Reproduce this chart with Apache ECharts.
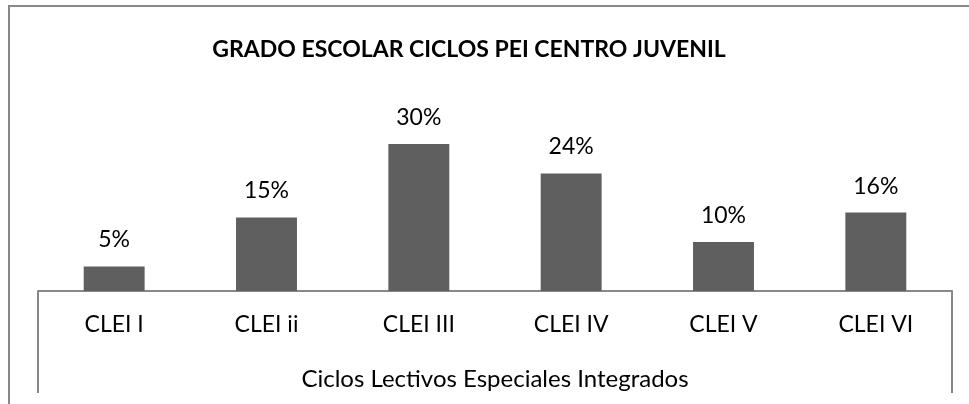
<!DOCTYPE html>
<html>
<head>
<meta charset="utf-8">
<script src="https://cdn.jsdelivr.net/npm/echarts@6/dist/echarts.min.js"></script>
<style>
  html, body { margin: 0; padding: 0; background: #fff; }
  #frame { position: absolute; left: 8px; top: 5px; width: 961px; height: 399px;
           border-left: 2px solid #888; border-top: 2px solid #888; box-sizing: border-box; }
  #main { position: absolute; left: 0; top: 0; width: 969px; height: 404px; }
</style>
</head>
<body>
<div id="frame"></div>
<div id="main"></div>
<script>
// datos del grafico
var categorias = ['CLEI I', 'CLEI ii', 'CLEI III', 'CLEI IV', 'CLEI V', 'CLEI VI'];
var porcentajes = [5, 15, 30, 24, 10, 16];
var titulo = 'GRADO ESCOLAR CICLOS PEI CENTRO JUVENIL';
var nombreEje = 'Ciclos Lectivos Especiales Integrados';

var myChart = echarts.init(document.getElementById('main'));
myChart.setOption({
    animation: false,
    title: {
        text: titulo,
        left: 464,
        top: 33,
        textAlign: 'center',
        textStyle: { fontFamily: 'Lato', fontWeight: 'bold', fontSize: 23, color: '#000' }
    },
    grid: { left: 38, right: 17, top: 95, bottom: 113 },
    xAxis: {
        type: 'category',
        data: categorias,
        name: nombreEje,
        nameLocation: 'middle',
        nameGap: 76,
        nameTextStyle: { fontFamily: 'Lato', fontSize: 24, color: '#000' },
        axisLine: { lineStyle: { color: '#888', width: 2 } },
        axisTick: {
            show: true,
            interval: function (i) { return i === 0; },
            length: 102,
            lineStyle: { color: '#888', width: 2 }
        },
        axisLabel: { interval: 0, margin: 22, fontFamily: 'Lato', fontSize: 23, color: '#000' }
    },
    yAxis: {
        type: 'value',
        min: 0,
        max: 40,
        show: false,
        splitLine: { show: false }
    },
    series: [{
        type: 'bar',
        data: porcentajes,
        barWidth: '40%',
        itemStyle: { color: '#5F5F5F' },
        label: {
            show: true,
            position: 'top',
            distance: 15,
            formatter: '{c}%',
            fontFamily: 'Lato',
            fontSize: 23,
            color: '#000'
        }
    }]
});
</script>
</body>
</html>
